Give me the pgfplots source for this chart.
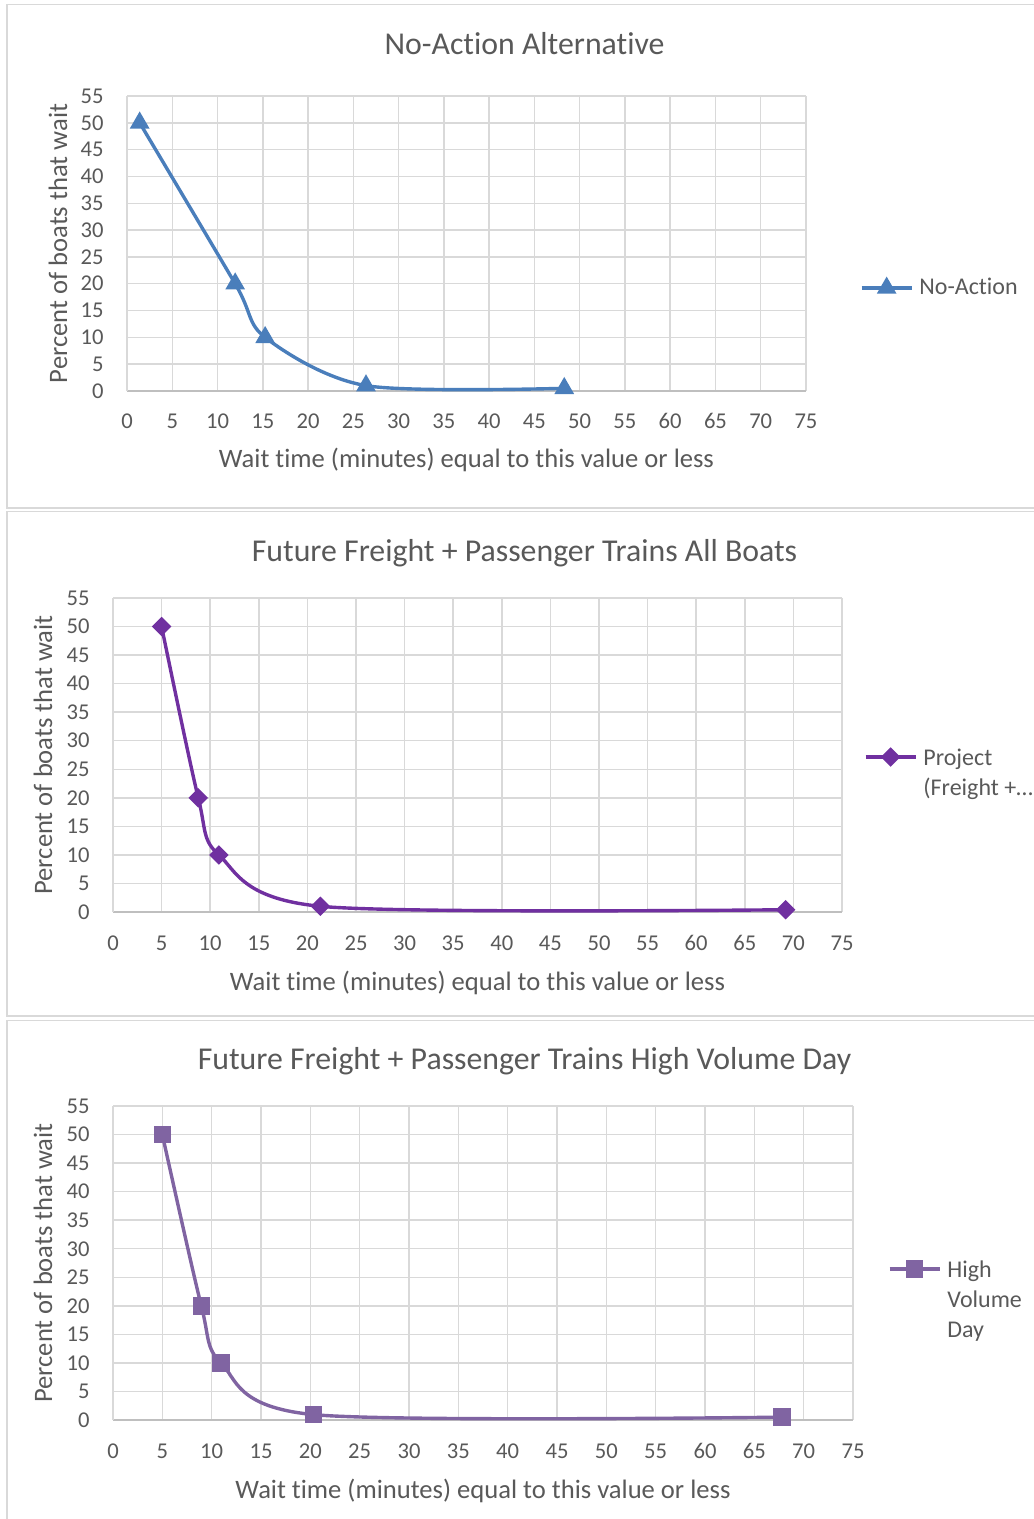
\documentclass[border=0pt]{standalone}
\usepackage{fontspec}
\setmainfont{Carlito}[Ligatures={NoCommon}]
\usepackage{pgfplots}
\pgfplotsset{compat=1.18}
\definecolor{txt}{HTML}{595959}
\definecolor{gridc}{HTML}{D9D9D9}
\definecolor{axc}{HTML}{BFBFBF}
\definecolor{c1}{HTML}{4A7EBB}
\definecolor{c2}{HTML}{7030A0}
\definecolor{c3}{HTML}{8064A2}
\pgfplotsset{
  mystyle/.style={
    scale only axis,
    xmin=0,xmax=75,ymin=0,ymax=55,
    xtick={0,5,...,75}, ytick={0,5,...,55},
    grid=major,
    major grid style={draw=gridc, line width=0.75pt},
    separate axis lines,
    axis x line*=bottom, axis y line*=left,
    x axis line style={draw=axc, line width=1pt, -},
    y axis line style={draw=gridc, line width=0.75pt, -},
    major tick length=0pt,
    /pgf/number format/assume math mode=true,
    tick label style={font=\fontsize{11.3}{13.5}\selectfont, text=txt},
    yticklabel style={anchor=east, inner sep=0pt, xshift=-11.5pt},
    label style={font=\fontsize{13.3}{16}\selectfont, text=txt},
    xlabel={Wait time (minutes) equal to this value or less},
    ylabel={Percent of boats that wait},
    legend cell align=left,
    legend image code/.code={\draw[mark repeat=2,mark phase=2,#1] plot coordinates {(0pt,0pt)(12.5pt,0pt)(25pt,0pt)};},
  },
  mylegend/.style={legend style={draw=none, fill=none, inner sep=0pt, outer sep=0pt,
    anchor=west, font=\fontsize{12}{14.8}\selectfont, text=txt, column sep=3pt,
    nodes={inner sep=0pt}}},
}
\begin{document}
\begin{tikzpicture}
\useasboundingbox (0,0) rectangle (516.5pt,-759.5pt);
\draw[gridc, line width=0.75pt] (3.5pt,-2.25pt) rectangle (525pt,-254pt);
\draw[gridc, line width=0.75pt] (3.5pt,-255.75pt) rectangle (525pt,-508pt);
\draw[gridc, line width=0.75pt] (3.5pt,-510.25pt) rectangle (525pt,-765pt);
\node[font=\fontsize{15.9}{19}\selectfont, text=txt] at (262.25pt,-22pt) {No-Action Alternative};
\node[font=\fontsize{15.9}{19}\selectfont, text=txt] at (262.25pt,-276.5pt) {Future Freight + Passenger Trains All Boats};
\node[font=\fontsize{15.9}{19}\selectfont, text=txt] at (262.25pt,-530.5pt) {Future Freight + Passenger Trains High Volume Day};

% Chart 1
\begin{axis}[mystyle, mylegend,
  at={(63.5pt,-195.5pt)}, anchor=south west,
  width=339.5pt, height=147.5pt,
  xticklabel style={anchor=center, yshift=-15pt},
  xlabel style={at={(axis description cs:0.5,0)}, anchor=center, yshift=-34.5pt},
  ylabel style={at={(axis description cs:-0.1016,0.5)}, anchor=center},
  legend style={at={(1.0795,0.3492)}},
]
\addplot[c1, line width=1.7pt, smooth, mark=triangle*, mark size=4pt, mark options={solid}]
  coordinates {(1.4,50) (11.95,20) (15.26,10) (26.4,1) (48.3,0.5)};
\addlegendentry{No-Action}
\end{axis}

% Chart 2
\begin{axis}[mystyle, mylegend,
  at={(56.5pt,-456pt)}, anchor=south west,
  width=364.5pt, height=157pt,
  xticklabel style={anchor=center, yshift=-15.5pt},
  xlabel style={at={(axis description cs:0.5,0)}, anchor=center, yshift=-35.5pt},
  ylabel style={at={(axis description cs:-0.0960,0.5)}, anchor=center},
  legend style={at={(1.0302,0.4936)}},
]
\addplot[c2, line width=1.7pt, smooth, mark=square*, mark size=2.6pt, mark options={solid, rotate=45}]
  coordinates {(5,50) (8.77,20) (10.89,10) (21.34,1) (69.2,0.4)};
\addlegendentry{\raisebox{0pt}[\height][0pt]{\begin{tabular}[t]{@{}l@{}}Project\\(Freight +…\end{tabular}}}
\end{axis}

% Chart 3
\begin{axis}[mystyle, mylegend,
  at={(56.5pt,-710pt)}, anchor=south west,
  width=370pt, height=157pt,
  xticklabel style={anchor=center, yshift=-15.5pt},
  xlabel style={at={(axis description cs:0.5,0)}, anchor=center, yshift=-35.5pt},
  ylabel style={at={(axis description cs:-0.0946,0.5)}, anchor=center},
  legend style={at={(1.0473,0.4809)}},
]
\addplot[c3, line width=1.7pt, smooth, mark=square*, mark size=3.5pt, mark options={solid}]
  coordinates {(5,50) (8.95,20) (10.95,10) (20.3,0.95) (67.8,0.5)};
\addlegendentry{\raisebox{0pt}[\height][0pt]{\begin{tabular}[t]{@{}l@{}}High\\Volume\\Day\end{tabular}}}
\end{axis}
\end{tikzpicture}
\end{document}
